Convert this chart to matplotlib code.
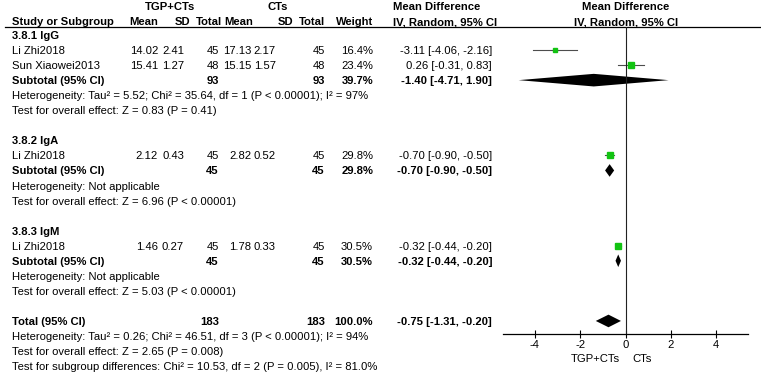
#!/usr/bin/env python3
"""Forest plot: TGP+CTs vs CTs, serum immunoglobulins (IgG / IgA / IgM)."""

import numpy as np
import matplotlib

matplotlib.use("Agg")
import matplotlib.pyplot as plt

plt.rcParams["font.family"] = ["Liberation Sans", "DejaVu Sans"]
plt.rcParams["axes.unicode_minus"] = False

# ---- data -----------------------------------------------------------------
subgroups = ["3.8.1 IgG", "3.8.2 IgA", "3.8.3 IgM"]

study_names = ["Li Zhi2018", "Sun Xiaowei2013", "Li Zhi2018", "Li Zhi2018"]
study_group = [0, 0, 1, 2]
tgp_mean = [14.02, 15.41, 2.12, 1.46]
tgp_sd = [2.41, 1.27, 0.43, 0.27]
tgp_n = [45, 48, 45, 45]
ct_mean = [17.13, 15.15, 2.82, 1.78]
ct_sd = [2.17, 1.57, 0.52, 0.33]
ct_n = [45, 48, 45, 45]
weights = [16.4, 23.4, 29.8, 30.5]
md = [-3.11, 0.26, -0.70, -0.32]
md_lo = [-4.06, -0.31, -0.90, -0.44]
md_hi = [-2.16, 0.83, -0.50, -0.20]

sub_tgp_n = [93, 45, 45]
sub_ct_n = [93, 45, 45]
sub_weight = [39.7, 29.8, 30.5]
sub_md = [-1.40, -0.70, -0.32]
sub_lo = [-4.71, -0.90, -0.44]
sub_hi = [1.90, -0.50, -0.20]
sub_het = [
    "Heterogeneity: Tau² = 5.52; Chi² = 35.64, df = 1 (P < 0.00001); I² = 97%",
    "Heterogeneity: Not applicable",
    "Heterogeneity: Not applicable",
]
sub_test = [
    "Test for overall effect: Z = 0.83 (P = 0.41)",
    "Test for overall effect: Z = 6.96 (P < 0.00001)",
    "Test for overall effect: Z = 5.03 (P < 0.00001)",
]

total_tgp_n = 183
total_ct_n = 183
total_weight = 100.0
total_md, total_lo, total_hi = -0.75, -1.31, -0.20
total_notes = [
    "Heterogeneity: Tau² = 0.26; Chi² = 46.51, df = 3 (P < 0.00001); I² = 94%",
    "Test for overall effect: Z = 2.65 (P = 0.008)",
    "Test for subgroup differences: Chi² = 10.53, df = 2 (P = 0.005), I² = 81.0%",
]

x_ticks = [-4, -2, 0, 2, 4]
favours = ["TGP+CTs", "CTs"]

# ---- layout (pixels) --------------------------------------------------------
W, H = 761, 374
FS = 8.1
ROW0, STEP = 36, 15.05
LABEL_X = 12
HEAD_RIGHT = [158, 190, 222, 253, 293, 325, 373]
VAL_RIGHT = [158, 184, 219, 251, 276, 325, 373]
HEADS = ["Mean", "SD", "Total", "Mean", "SD", "Total", "Weight"]
CI_RIGHT = 492
AX_L, AX_R, AX_TOP, AX_BOT = 503, 748, 27, 334
GREEN = "#12c312"
CI_GREY = "#4d4d4d"
DIAMOND_H = 6.3


def row_y(i):
    return ROW0 + i * STEP


fig = plt.figure(figsize=(W / 100, H / 100), dpi=100)
tx = fig.add_axes([0, 0, 1, 1])
tx.set_xlim(0, W)
tx.set_ylim(H, 0)
tx.axis("off")

ax = fig.add_axes([AX_L / W, 1 - AX_BOT / H, (AX_R - AX_L) / W, (AX_BOT - AX_TOP) / H])
ax.set_xlim(-5.4, 5.4)
ax.set_ylim(AX_BOT, AX_TOP)
ax.patch.set_alpha(0)


def put(x, y, s, ha="left", bold=False):
    tx.text(x, y, s, ha=ha, va="center", fontsize=FS,
            fontweight="bold" if bold else "normal")


def ci_text(m, lo, hi):
    return f"{m:.2f} [{lo:.2f}, {hi:.2f}]"


def diamond(y, m, lo, hi):
    ax.fill([lo, m, hi, m], [y, y - DIAMOND_H, y, y + DIAMOND_H],
            color="black", lw=0, clip_on=False)


# header
put(170, 7, "TGP+CTs", ha="center", bold=True)
put(278, 7, "CTs", ha="center", bold=True)
put(LABEL_X, 22, "Study or Subgroup", bold=True)
for xr, h in zip(HEAD_RIGHT, HEADS):
    put(xr, 22, h, ha="right", bold=True)
put(393, 7, "Mean Difference", bold=True)
put(393, 22, "IV, Random, 95% CI", bold=True)
put(626, 7, "Mean Difference", ha="center", bold=True)
put(626, 22, "IV, Random, 95% CI", ha="center", bold=True)
tx.plot([5, W], [AX_TOP, AX_TOP], color="black", lw=0.9)

# subgroups
i = 0
for g, gname in enumerate(subgroups):
    put(LABEL_X, row_y(i), gname, bold=True)
    i += 1
    for k in range(len(study_names)):
        if study_group[k] != g:
            continue
        y = row_y(i)
        put(LABEL_X, y, study_names[k])
        vals = [f"{tgp_mean[k]:.2f}", f"{tgp_sd[k]:.2f}", f"{tgp_n[k]}",
                f"{ct_mean[k]:.2f}", f"{ct_sd[k]:.2f}", f"{ct_n[k]}",
                f"{weights[k]:.1f}%"]
        for xr, v in zip(VAL_RIGHT, vals):
            put(xr, y, v, ha="right")
        put(CI_RIGHT, y, ci_text(md[k], md_lo[k], md_hi[k]), ha="right")
        ax.plot([md_lo[k], md_hi[k]], [y - 1, y - 1], color=CI_GREY, lw=0.8)
        ax.plot(md[k], y - 1, marker="s", ms=0.83 * np.sqrt(weights[k]),
                color=GREEN, mec=GREEN, ls="none")
        i += 1
    y = row_y(i)
    put(LABEL_X, y, "Subtotal (95% CI)", bold=True)
    put(VAL_RIGHT[2], y, f"{sub_tgp_n[g]}", ha="right", bold=True)
    put(VAL_RIGHT[5], y, f"{sub_ct_n[g]}", ha="right", bold=True)
    put(VAL_RIGHT[6], y, f"{sub_weight[g]:.1f}%", ha="right", bold=True)
    put(CI_RIGHT, y, ci_text(sub_md[g], sub_lo[g], sub_hi[g]), ha="right", bold=True)
    diamond(y - 1, sub_md[g], sub_lo[g], sub_hi[g])
    i += 1
    put(LABEL_X, row_y(i), sub_het[g])
    i += 1
    put(LABEL_X, row_y(i), sub_test[g])
    i += 2

# overall
y = row_y(i)
put(LABEL_X, y, "Total (95% CI)", bold=True)
put(VAL_RIGHT[2], y, f"{total_tgp_n}", ha="right", bold=True)
put(VAL_RIGHT[5], y, f"{total_ct_n}", ha="right", bold=True)
put(VAL_RIGHT[6], y, f"{total_weight:.1f}%", ha="right", bold=True)
put(CI_RIGHT, y, ci_text(total_md, total_lo, total_hi), ha="right", bold=True)
diamond(y - 1, total_md, total_lo, total_hi)
for note in total_notes:
    i += 1
    put(LABEL_X, row_y(i), note)

# forest axis
ax.axvline(0, color="#222222", lw=0.8)
for side in ("top", "right", "left"):
    ax.spines[side].set_visible(False)
ax.spines["bottom"].set_linewidth(0.9)
ax.set_yticks([])
ax.set_xticks(x_ticks)
ax.set_xticklabels([str(t) for t in x_ticks])
ax.tick_params(axis="x", direction="inout", length=6, width=0.8, pad=1.5, labelsize=FS)
put(620, 359, favours[0], ha="right")
put(632, 359, favours[1])

fig.savefig("out.png", dpi=100)
print("saved out.png")
